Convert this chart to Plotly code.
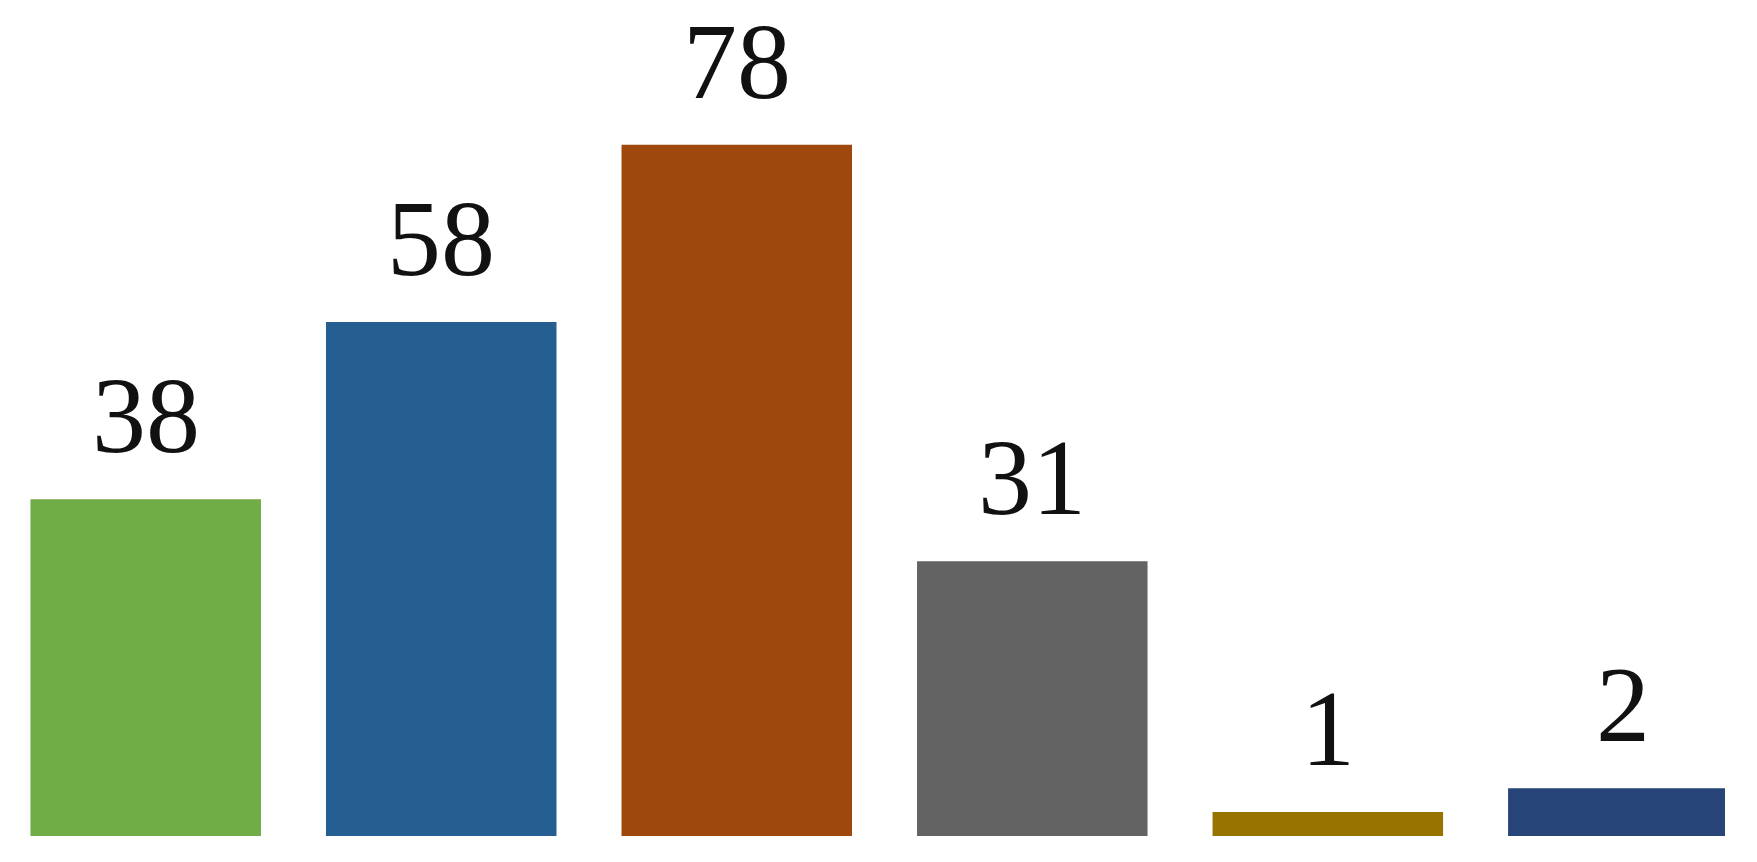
import plotly.graph_objects as go

categories = ["A", "B", "C", "D", "E", "F"]
value_labels = ["38", "58", "78", "31", "1", "2"]
bar_heights = [38, 58, 78, 31, 2.7, 5.4]
colors = ["#70AD47", "#255E91", "#9E480E", "#636363", "#997300", "#264478"]

fig = go.Figure()
fig.add_trace(go.Bar(
    x=categories, y=bar_heights, marker_color=colors,
    marker_line_width=0, width=0.78,
))

for c, h, t in zip(categories, bar_heights, value_labels):
    fig.add_annotation(
        x=c, y=h, text=t, showarrow=False, yanchor="bottom", yshift=22,
        font=dict(family="Liberation Serif", size=108, color="#111111"),
    )

fig.update_layout(
    width=1757, height=862,
    margin=dict(l=0, r=40, t=48, b=34),
    paper_bgcolor="white", plot_bgcolor="white",
    showlegend=False,
)
fig.update_xaxes(visible=False, range=[-0.466, 5.344])
fig.update_yaxes(visible=False, range=[0, 88])

fig.write_html("out.html")
